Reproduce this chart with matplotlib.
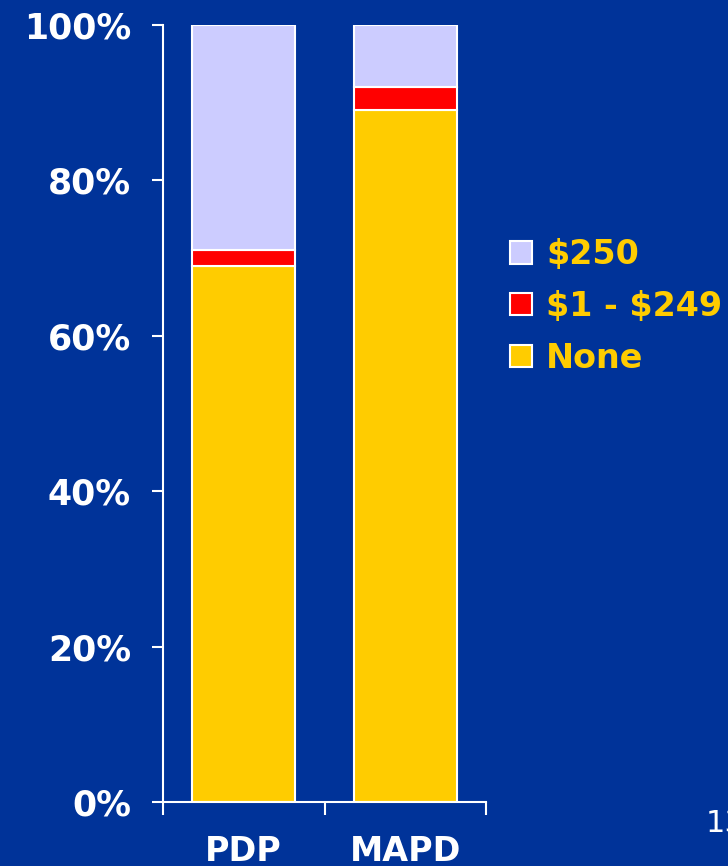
import matplotlib.pyplot as plt
import numpy as np

plt.rcParams['font.family'] = ['DejaVu Sans']

categories = ["PDP", "MAPD"]
series_names = ["None", r"\$1 - \$249", r"\$250"]
none_vals = [69, 89]
low_vals = [2, 3]
full_vals = [29, 8]
colors = ["#FFCC00", "#FF0000", "#CCCCFF"]
bg = "#003399"

fig = plt.figure(figsize=(7.28, 8.66), dpi=100, facecolor=bg)
ax = fig.add_axes([163 / 728, 1 - 802 / 866, (486 - 163) / 728, (802 - 25) / 866])
ax.set_facecolor(bg)

x = np.arange(len(categories)) + 0.5
bottom = np.zeros(len(categories))
handles = []
for vals, name, c in zip([none_vals, low_vals, full_vals], series_names, colors):
    b = ax.bar(x, vals, 0.64, bottom=bottom, color=c, edgecolor="white",
               linewidth=1.5, label=name)
    handles.append(b)
    bottom += np.array(vals)

ax.set_xlim(0, 2)
ax.set_ylim(0, 100)
ax.set_yticks([0, 20, 40, 60, 80, 100])
ax.set_yticklabels(["0%", "20%", "40%", "60%", "80%", "100%"])
ax.set_xticks([0, 1, 2])
ax.set_xticklabels([])
ax.set_xticks(x, minor=True)
ax.set_xticklabels(categories, minor=True)

for s in ["top", "right"]:
    ax.spines[s].set_visible(False)
for s in ["left", "bottom"]:
    ax.spines[s].set_color("white")
    ax.spines[s].set_linewidth(1.5)

ax.tick_params(axis="y", colors="white", length=8, width=1.5, pad=15,
               labelsize=25, direction="out")
ax.tick_params(axis="x", which="major", colors="white", length=9, width=1.5)
ax.tick_params(axis="x", which="minor", length=0, colors="white",
               labelsize=24, pad=24)
for lab in ax.get_yticklabels() + ax.get_xticklabels(minor=True):
    lab.set_fontweight("bold")

leg = fig.legend(handles[::-1], series_names[::-1], loc="upper left",
                 bbox_to_anchor=(497 / 728, 1 - 225 / 866), frameon=False,
                 fontsize=24, handlelength=0.65, handleheight=0.65,
                 handletextpad=0.42, labelspacing=0.56, borderaxespad=0)
for t in leg.get_texts():
    t.set_color("#FFCC00")
    t.set_fontweight("bold")

fig.text(706 / 728, 1 - 824 / 866, "13", color="white", fontsize=22,
         va="center", ha="left")

fig.savefig("out.png", dpi=100, facecolor=bg)
